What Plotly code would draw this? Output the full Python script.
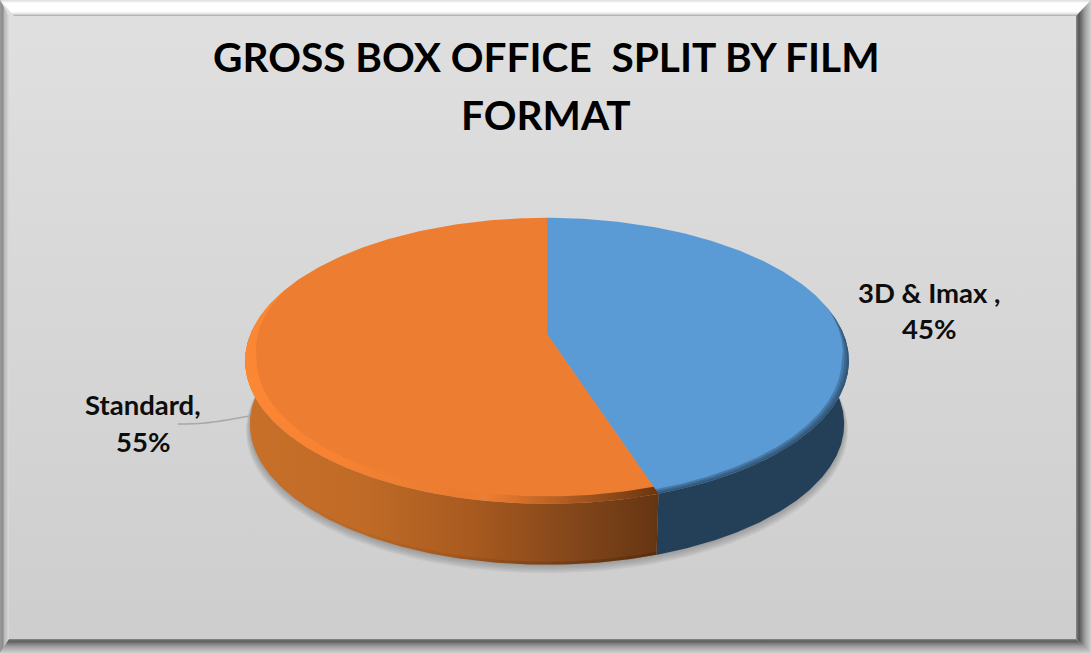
import numpy as np
import plotly.graph_objects as go

categories = ["3D & Imax ", "Standard"]
values = [45, 55]
title_lines = ["GROSS BOX OFFICE  SPLIT BY FILM", "FORMAT"]

W, H = 1091, 653
CX, CY, R, B, K = 547, 334, 296.5, 138, 0.1875
DEPTH = 64


def rim(t0, t1, scale=1.0, dy=0.0, n=200):
    deg = np.linspace(t0, t1, n)
    s = scale(deg) if callable(scale) else scale
    t = np.radians(deg)
    u, v = s * np.sin(t), -s * np.cos(t)
    w = 1 - K * v
    return CX + R * u / w, CY + B * v / w + dy


fig = go.Figure()


def poly(x, y, color=None, grad=None, gtype="horizontal"):
    kw = dict(x=list(x), y=list(y), mode="lines", line=dict(width=0), fill="toself",
              hoverinfo="skip", showlegend=False)
    if grad:
        kw["fillgradient"] = dict(type=gtype, colorscale=grad)
    else:
        kw["fillcolor"] = color
    fig.add_trace(go.Scatter(**kw))


def band(t0, t1, s0=1.0, s1=0.96, color=None, grad=None):
    xa, ya = rim(t0, t1, s0)
    xb, yb = rim(t0, t1, s1)
    poly(np.r_[xa, xb[::-1]], np.r_[ya, yb[::-1]], color, grad)


# background and bevelled frame
poly([0, W, W, 0], [0, 0, H, H], grad=[[0, "#cdcdcd"], [1, "#e0e0e0"]], gtype="vertical")
poly([0, W, W - 14, 14], [0, 0, 16, 16], grad=[[0, "#a8a8a8"], [0.15, "#e8e8e8"], [0.3, "#ffffff"], [0.8, "#ffffff"], [1, "#dcdcdc"]], gtype="vertical")
poly([0, 9, 9, 0], [0, 16, H - 14, H], grad=[[0, "#9a9a9a"], [0.3, "#8c8c8c"], [0.5, "#b8b8b8"], [1, "#dbdbdb"]])
poly([W, W - 15, W - 15, W], [0, 16, H - 14, H], grad=[[0, "#8a8a8a"], [0.2, "#555555"], [0.6, "#a0a0a0"], [1, "#d0d0d0"]])
poly([0, W, W - 15, 9], [H, H, H - 14, H - 14], grad=[[0, "#d0d0d0"], [0.5, "#9a9a9a"], [0.85, "#5c5c5c"], [1, "#8a8a8a"]], gtype="vertical")

# soft shadow under the pie
for i in range(6):
    sx, sy = rim(0, 360, 0.985 + 0.0025 * i, DEPTH + 1 + 1.0 * i)
    poly(sx, sy, "rgba(90,90,90,0.085)")

boundary = 360 * values[0] / sum(values)

# side wall
xa, ya = rim(88, boundary)
xb, yb = rim(88, boundary, 0.985, DEPTH)
poly(np.r_[xa, xb[::-1]], np.r_[ya, yb[::-1]], "#243f58")
xa, ya = rim(boundary, 272)
xb, yb = rim(boundary, 272, 0.985, DEPTH)
poly(np.r_[xa, xb[::-1]], np.r_[ya, yb[::-1]],
     grad=[[0, "#c8702a"], [0.3, "#bf6a26"], [0.55, "#a85a1f"], [0.8, "#82461a"], [1, "#653512"]])
xa, ya = rim(boundary, 250, 0.985, DEPTH)
xb, yb = rim(boundary, 250, 0.985, DEPTH - 3)
poly(np.r_[xa, xb[::-1]], np.r_[ya, yb[::-1]],
     grad=[[0, "rgba(70,35,5,0.0)"], [0.5, "rgba(70,35,5,0.1)"], [1, "rgba(70,35,5,0.4)"]])

# top faces
colors = ["#5b9bd5", "#ed7d31"]
start = 0
for val, col in zip(values, colors):
    end = start + 360 * val / sum(values)
    x, y = rim(start, end)
    poly(np.r_[CX, x, CX], np.r_[CY, y, CY], col)
    start = end

# bevel on the top-face edge, tapering away towards the back of the pie
def taper_left(deg):
    return 1 - 0.036 * np.clip((292 - deg) / 32, 0, 1)


def taper_right(width):
    return lambda deg: 1 - width * np.clip((deg - 78) / 25, 0, 1)


band(boundary, 292, 1.0, taper_left,
     grad=[[0, "rgba(252,135,52,1)"], [0.25, "rgba(248,131,50,0.75)"], [0.45, "rgba(240,128,50,0.1)"],
           [0.58, "rgba(120,60,20,0.0)"], [0.8, "rgba(100,50,15,0.5)"], [1, "rgba(90,45,12,0.9)"]])
for s in (0.007, 0.015, 0.023):
    band(78, boundary, 1.0, taper_right(s), "rgba(36,63,88,0.35)")

# leader line
fig.add_trace(go.Scatter(x=[178, 205, 250], y=[424, 423, 416], mode="lines", hoverinfo="skip",
                         showlegend=False, line=dict(color="#a8a8a8", width=1.5, shape="spline")))

# title and labels
font = "Lato"
ann = []
for txt, yy in zip(title_lines, [56, 114]):
    ann.append(dict(x=546, y=yy, text=f"<b>{txt}</b>", font=dict(size=40.6, family=font, color="#000000")))
pos = [(929, 292, 328), (143, 404, 441)]
for cat, val, (px, py1, py2) in zip(categories, values, pos):
    ann.append(dict(x=px, y=py1, text=f"<b>{cat},</b>", font=dict(size=27.5, family=font, color="#0d0d0d")))
    ann.append(dict(x=px, y=py2, text=f"<b>{val}%</b>", font=dict(size=27.5, family=font, color="#0d0d0d")))
for a in ann:
    a.update(xref="x", yref="y", showarrow=False, xanchor="center", yanchor="middle")

fig.update_layout(
    width=W, height=H, margin=dict(l=0, r=0, t=0, b=0), showlegend=False,
    paper_bgcolor="#d8d8d8", plot_bgcolor="#d8d8d8", annotations=ann,
    xaxis=dict(range=[0, W], visible=False, fixedrange=True),
    yaxis=dict(range=[H, 0], visible=False, fixedrange=True),
)
fig.write_html("out.html", config={"displayModeBar": False},
               post_script="document.body.style.margin='0';document.body.style.overflow='hidden';")
